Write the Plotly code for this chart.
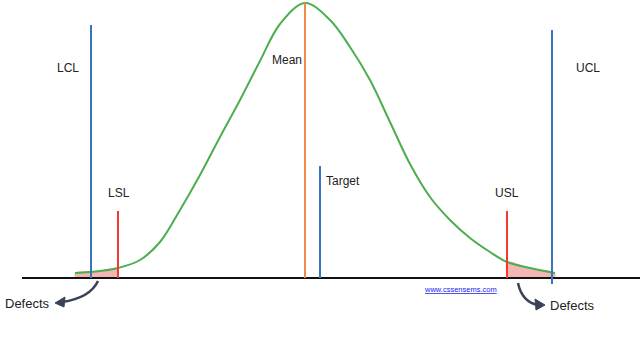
import plotly.graph_objects as go

# distribution curve (x position, height above baseline)
curve_x = [75, 100, 118, 140, 160, 180, 200, 220, 240, 260, 280, 305, 330, 350, 370, 390, 410, 430, 450, 470, 490, 507, 530, 555]
curve_y = [5, 7, 10, 18, 36, 68, 103, 141, 178, 217, 254, 275, 258, 231, 198, 156, 114, 81, 58, 40, 26, 16, 10, 5]

# reference lines
line_names = ["LCL", "LSL", "Mean", "Target", "USL", "UCL"]
line_x = [91, 118, 305, 320, 507, 552]
line_top = [253, 67, 275, 112, 67, 248]
line_bottom = [0, 0, 0, 0, 0, -6]
line_colors = ["#3a73c0", "#ef3a2d", "#f0894a", "#3a73c0", "#ef3a2d", "#3a73c0"]

lsl, usl = 118, 507

fig = go.Figure()

# tail fills
lx = [x for x in curve_x if x <= lsl]
ly = [y for x, y in zip(curve_x, curve_y) if x <= lsl]
rx = [x for x in curve_x if x >= usl]
ry = [y for x, y in zip(curve_x, curve_y) if x >= usl]
for xs, ys in [(lx, ly), (rx, ry)]:
    fig.add_trace(go.Scatter(x=[xs[0]] + xs + [xs[-1]], y=[0] + ys + [0], fill="toself",
                             fillcolor="rgba(240,150,150,0.7)", line=dict(width=0, shape="spline"),
                             mode="lines", hoverinfo="skip", showlegend=False))

# baseline
fig.add_trace(go.Scatter(x=[22, 640], y=[0, 0], mode="lines",
                         line=dict(color="#111111", width=2), showlegend=False))

# curve
fig.add_trace(go.Scatter(x=curve_x, y=curve_y, mode="lines",
                         line=dict(color="#4cae4f", width=2, shape="spline", smoothing=1.0),
                         showlegend=False))

# vertical lines
for name, x, top, bot, c in zip(line_names, line_x, line_top, line_bottom, line_colors):
    fig.add_trace(go.Scatter(x=[x, x], y=[bot, top], mode="lines", line=dict(color=c, width=2), showlegend=False))

font = dict(family="Liberation Sans, Arial", size=12, color="#222222")
labels = [("LCL", 68, 210), ("LSL", 119, 85), ("Mean", 287, 218), ("Target", 343, 97),
          ("USL", 507, 85), ("UCL", 588, 210)]
for t, x, y in labels:
    fig.add_annotation(x=x, y=y, text=t, showarrow=False, font=font)
for t, x, y in [("Defects", 27, -25), ("Defects", 572, -27)]:
    fig.add_annotation(x=x, y=y, text=t, showarrow=False, font=dict(family="Liberation Sans, Arial", size=13, color="#222222"))

fig.add_annotation(x=460, y=-11, text="<u>www.cssensems.com</u>", showarrow=False,
                   font=dict(family="Liberation Sans, Arial", size=7.5, color="#1a1aee"))

# curved arrows
arrow_col = "#3b4258"
fig.add_shape(type="path", path="M 98,-3 Q 90,-20 62,-24", line=dict(color=arrow_col, width=2.5))
fig.add_shape(type="path", path="M 55,-25 L 65,-19 L 64,-29 Z", line=dict(color=arrow_col, width=1), fillcolor=arrow_col)
fig.add_shape(type="path", path="M 518,-5 Q 522,-24 538,-27", line=dict(color=arrow_col, width=2.5))
fig.add_shape(type="path", path="M 545,-27 L 535,-21 L 536,-32 Z", line=dict(color=arrow_col, width=1), fillcolor=arrow_col)

fig.update_layout(
    width=640, height=352, margin=dict(l=0, r=0, t=0, b=0),
    paper_bgcolor="white", plot_bgcolor="white",
    xaxis=dict(range=[0, 640], visible=False, fixedrange=True),
    yaxis=dict(range=[-74, 278], visible=False, fixedrange=True),
    showlegend=False,
)
fig.write_html("out.html")
